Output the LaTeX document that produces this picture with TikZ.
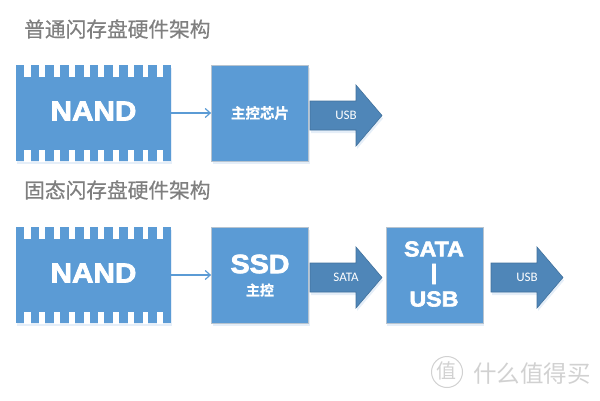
\documentclass[tikz,border=0pt]{standalone}
\usepackage{fontspec}
\setmainfont{Liberation Sans}
\newfontfamily\cjk[FakeBold=0.6]{Noto Sans CJK SC}
\newfontfamily\cjkb[FakeBold=0.8]{Noto Sans CJK SC Bold}
\newfontfamily\heavy[FakeBold=2.8,FakeStretch=1.08]{Liberation Sans Bold}
\newfontfamily\cali{Carlito}
\newfontfamily\wmfont{Noto Sans CJK SC}
\usetikzlibrary{arrows.meta,shadows}
\definecolor{boxblue}{HTML}{5B9BD5}
\definecolor{arrowblue}{HTML}{4F86B8}
\definecolor{arrowedge}{HTML}{41719C}
\definecolor{boxedge}{HTML}{B8C4CF}
\definecolor{titlegray}{HTML}{7F7F7F}
\definecolor{shadowblue}{HTML}{CFE0F2}
\tikzset{
  softshadow/.style={general shadow={shadow xshift=1pt,shadow yshift=-3pt,fill=shadowblue,opacity=.55}},
  chipbody/.style={rectangle,fill=boxblue,minimum width=155pt,minimum height=96pt,inner sep=0pt,softshadow},
  ctrlbox/.style={rectangle,fill=boxblue,draw=boxedge,line width=.8pt,minimum width=97pt,minimum height=96pt,inner sep=0pt,softshadow,text=white,align=center},
  bigarrow/.style={fill=arrowblue,draw=arrowedge,line width=.6pt,softshadow},
  arrowlabel/.style={inner sep=0pt,text=white,font=\cali\fontsize{13}{13}\selectfont},
  titletext/.style={anchor=west,inner sep=0pt,text=titlegray,font=\cjk\fontsize{20.7}{21}\selectfont},
  thinlink/.style={draw=boxblue,line width=1.2pt,-{Straight Barb[length=5pt,width=9pt]}},
  whitelabel/.style={text=white,inner sep=0pt},
  watermark/.style={inner sep=0pt,text=black!18,font=\wmfont\fontsize{23.5}{24}\selectfont},
}
\newcommand{\chipteeth}[1]{%
  \foreach \a/\b in {24/31,39/45,54/60,69/75,84/90,98/104,113/119,128/134,143/148,157/163}{
    \fill[white] (\a,#1) rectangle (\b,#1+12);
    \fill[white] (\a,#1+85) rectangle (\b,#1+97);
  }}
\newcommand{\bigarrowat}[2]{%
  \path[bigarrow] (#1,#2-14.5) -- (#1+46,#2-14.5) -- (#1+46,#2-30.5) -- (#1+72,#2) -- (#1+46,#2+30.5) -- (#1+46,#2+14.5) -- (#1,#2+14.5) -- cycle;}
\begin{document}
\begin{tikzpicture}[x=1pt,y=-1pt]
\useasboundingbox (0,0) rectangle (600,400);
\node[titletext] (t1) at (24,29) {普通闪存盘硬件架构};
\node[titletext] (t2) at (24,190) {固态闪存盘硬件架构};

\node[chipbody] (nand1) at (93.5,113) {};
\chipteeth{65}
\node[whitelabel,font=\heavy\fontsize{27.5}{27.5}\selectfont] (nl1) at (93.5,111) {NAND};
\node[ctrlbox,font=\cjkb\fontsize{14.5}{15}\selectfont] (ctrl) at (260,113) {主控芯片};
\bigarrowat{310}{115.5}
\node[arrowlabel] (usb1) at (346,115.5) {USB};
\draw[thinlink] (nand1.east) -- (ctrl.west);

\node[chipbody] (nand2) at (93.5,275) {};
\chipteeth{227}
\node[whitelabel,font=\heavy\fontsize{27.5}{27.5}\selectfont] (nl2) at (93.5,273) {NAND};
\node[ctrlbox] (ssd) at (260,275) {};
\node[whitelabel,font=\heavy\fontsize{26.5}{26.5}\selectfont] (ssdl) at (260,264) {SSD};
\node[whitelabel,font=\cjkb\fontsize{14}{14}\selectfont] (ssdz) at (260,290) {主控};
\bigarrowat{310}{277.5}
\node[arrowlabel] (sata) at (346,277.5) {SATA};
\node[ctrlbox] (bridge) at (434.5,275) {};
\node[whitelabel,font=\heavy\fontsize{21.5}{21.5}\selectfont] (br1) at (434,249) {SATA};
\node[whitelabel,font=\heavy\fontsize{21.5}{21.5}\selectfont] (br2) at (434,274) {|};
\node[whitelabel,font=\heavy\fontsize{21.5}{21.5}\selectfont] (br3) at (434,299) {USB};
\bigarrowat{491}{277.5}
\node[arrowlabel] (usb2) at (527,277.5) {USB};
\draw[thinlink] (nand2.east) -- (ssd.west);

\draw[black!18,line width=1pt] (447,372) circle (15.5);
\node[watermark,font=\wmfont\fontsize{20}{20}\selectfont] (wm1) at (446,371) {值};
\node[watermark] (wm2) at (532,374) {什么值得买};
\end{tikzpicture}
\end{document}
